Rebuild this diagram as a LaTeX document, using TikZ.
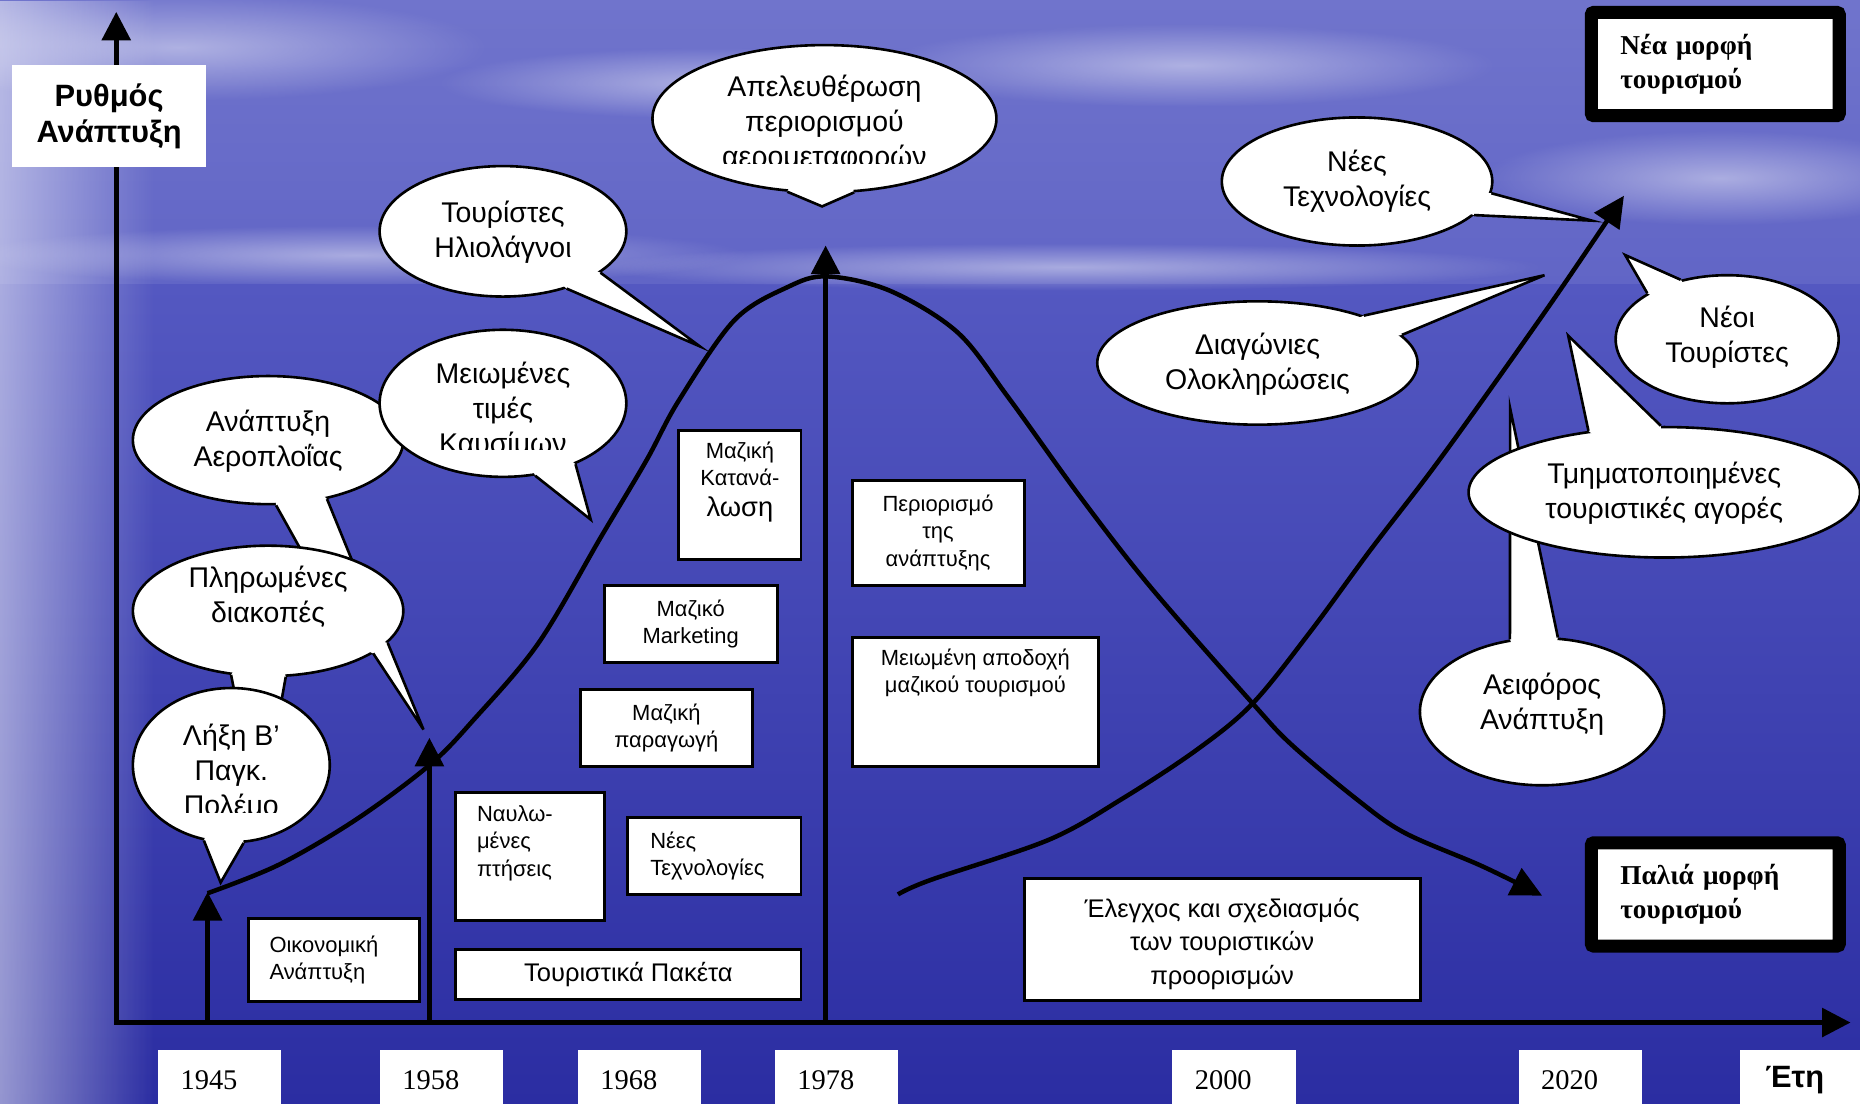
\documentclass[tikz,border=0pt]{standalone}
\usepackage{fontspec}
\setmainfont{Liberation Serif}
\setsansfont{Liberation Sans}
\usetikzlibrary{positioning, arrows.meta, shapes.geometric, fadings}

\definecolor{skytop}{HTML}{7074CC}
\definecolor{skylow}{HTML}{6165C6}
\definecolor{seatop}{HTML}{5458C1}
\definecolor{seabot}{HTML}{2B2DA2}

\tikzfading[name=softband, top color=transparent!100, middle color=transparent!60, bottom color=transparent!100]
\tikzfading[name=cloudfade, inner color=transparent!55, outer color=transparent!100]

\begin{document}
\begin{tikzpicture}[
    x=1pt, y=-1pt,
    axis/.style={line width=3.8pt, -{Triangle[length=24pt,width=24pt]}},
    trend/.style={line width=3.8pt, line join=round, -{Triangle[length=26pt,width=25pt]}},
    bubble/.style={ellipse, draw, fill=white, line width=2.2pt, inner sep=0pt},
    tailedge/.style={line width=2.2pt},
    saytext/.style={font=\sffamily\fontsize{24}{29.5}\selectfont, align=center, inner sep=0pt},
    factbox/.style={draw, fill=white, line width=2.5pt, anchor=north west, inner sep=0pt},
    facttext/.style={font=\sffamily\fontsize{18.5}{23}\selectfont, inner sep=0pt},
    bigtext/.style={font=\sffamily\fontsize{21.5}{28.5}\selectfont, align=center, inner sep=0pt},
    yearbox/.style={fill=white, anchor=north west, minimum height=50pt, text width=66pt,
        inner xsep=19pt, inner ysep=0pt, align=left, font=\fontsize{24}{24}\selectfont},
    formbox/.style={draw=black, line width=11pt, rounded corners=2pt, fill=white,
        minimum width=209pt, minimum height=87pt, text width=160pt, align=left,
        font=\bfseries\fontsize{23}{29}\selectfont}
]

    \def\xa{175}  % 1945
    \def\xb{362}  % 1958
    \def\xc{696}  % 1978
    \def\ax{862}  % axis height

    % background
    \useasboundingbox (0,0) rectangle (1568,930);
    \clip (0,0) rectangle (1568,930);
    \shade[top color=skytop, bottom color=skylow] (0,0) rectangle (1568,240);
    \shade[top color=seatop, bottom color=seabot] (0,240) rectangle (1568,930);
    \fill[white, path fading=softband] (0,180) rectangle (1568,270);
    \fill[white, path fading=east, fill opacity=0.5] (0,0) rectangle (130,930);
    \foreach \cx/\cy/\rx/\ry in {150/40/260/45, 600/70/230/30, 1000/55/260/35,
        1450/150/200/40, 300/215/330/25, 900/225/400/20}
        \fill[white, path fading=cloudfade]
            (\cx,\cy) ellipse [x radius=\rx pt, y radius=\ry pt];

    % axes
    \coordinate (origin) at (98,\ax);
    \coordinate (ytop) at (98,10);
    \coordinate (xend) at (1560,\ax);
    \draw[axis] ([yshift=-2pt]origin) -- (ytop);
    \draw[axis] (origin) -- (xend);

    % year arrows
    \coordinate (b45) at (\xa,\ax);
    \coordinate (b58) at (\xb,\ax);
    \coordinate (b78) at (\xc,\ax);
    \coordinate (t45) at (\xa,752);
    \coordinate (t58) at (\xb,622);
    \coordinate (t78) at (\xc,207);
    \draw[axis] (b45) -- (t45);
    \draw[axis] (b58) -- (t58);
    \draw[axis] (b78) -- (t78);

    % old form of tourism
    \draw[trend] plot[smooth, tension=0.55] coordinates {(175,753) (235,729) (300,691)
        (362,645) (400,606) (454,542) (507,452) (545,388) (572,338) (619,270)
        (664,242) (697,233) (750,245) (807,280) (850,335) (910,418) (970,495)
        (1056,593) (1089,628) (1144,674) (1184,702) (1249,730) (1300,755)};
    % new form of tourism
    \draw[trend] plot[smooth, tension=0.55] coordinates {(757,754) (784,742) (884,708)
        (945,674) (1009,632) (1056,593) (1105,532) (1155,464) (1205,399)
        (1250,337) (1310,252) (1369,165)};

    % bubbles, left side
    \node[bubble, minimum width=228pt, minimum height=108pt] (aero) at (226,371) {};
    \fill[white] (aero.center) -- (aero.-83) -- (274,500) -- (308,500) -- (aero.-45) -- cycle;
    \draw[tailedge] (aero.-83) -- (274,500) (aero.-45) -- (308,500);
    \node[saytext] (aerotxt) at (226,372) {Ανάπτυξη\\Αεροπλοΐας};

    \node[bubble, minimum width=208pt, minimum height=124pt] (fuel) at (424,340) {};
    \coordinate (fueltip) at (498,438);
    \fill[white] (fuel.center) -- (fuel.-66) -- (fueltip) -- (fuel.-40) -- cycle;
    \draw[tailedge] (fuel.-66) -- (fueltip) -- (fuel.-40);
    \begin{scope}
        \clip (300,280) rectangle (540,379);
        \node[saytext] (fueltxt) at (424,346) {Μειωμένες\\τιμές\\Καυσίμων};
    \end{scope}

    \node[bubble, minimum width=228pt, minimum height=110pt] (pay) at (226,515) {};
    \coordinate (paytip) at (357,615);
    \fill[white] (pay.center) -- (pay.-22) -- (paytip) -- (pay.-15) -- cycle;
    \draw[tailedge] (pay.-22) -- (paytip) -- (pay.-15);
    \fill[white] (pay.center) -- (pay.-120) -- (205,620) -- (232,620) -- (pay.-75) -- cycle;
    \draw[tailedge] (pay.-120) -- (205,620) (pay.-75) -- (232,620);
    \node[saytext] (paytxt) at (226,503) {Πληρωμένες\\διακοπές};

    \node[bubble, minimum width=166pt, minimum height=130pt] (war) at (195,645) {};
    \coordinate (wartip) at (186,744);
    \fill[white] (war.center) -- (war.-110) -- (wartip) -- (war.-81) -- cycle;
    \draw[tailedge] (war.-110) -- (wartip) -- (war.-81);
    \begin{scope}
        \clip (100,580) rectangle (290,685);
        \node[saytext] (wartxt) at (195,651) {Λήξη Β’\\Παγκ.\\Πολέμο};
    \end{scope}

    \node[bubble, minimum width=208pt, minimum height=110pt] (sun) at (424,195) {};
    \coordinate (suntip) at (590,292);
    \fill[white] (sun.center) -- (sun.-23) -- (suntip) -- (sun.-42) -- cycle;
    \draw[tailedge] (sun.-23) -- (suntip) -- (sun.-42);
    \node[saytext] (suntxt) at (424,196) {Τουρίστες\\Ηλιολάγνοι};

    \node[bubble, minimum width=290pt, minimum height=124pt] (liber) at (695,100) {};
    \coordinate (libertip) at (693,174);
    \fill[white] (liber.center) -- (liber.-117) -- (libertip) -- (liber.-68) -- cycle;
    \draw[tailedge] (liber.-117) -- (libertip) -- (liber.-68);
    \begin{scope}
        \clip (560,40) rectangle (830,138);
        \node[saytext] (libertxt) at (695,104) {Απελευθέρωση\\περιορισμού\\αερομεταφορών};
    \end{scope}

    % bubbles, right side
    \node[bubble, minimum width=228pt, minimum height=108pt] (tech) at (1144,153) {};
    \coordinate (techtip) at (1342,186);
    \fill[white] (tech.center) -- (tech.-5) -- (techtip) -- (tech.-16) -- cycle;
    \draw[tailedge] (tech.-5) -- (techtip) -- (tech.-16);
    \node[saytext] (techtxt) at (1144,153) {Νέες\\Τεχνολογίες};

    \node[bubble, minimum width=270pt, minimum height=104pt] (diag) at (1060,306) {};
    \coordinate (diagtip) at (1302,232);
    \fill[white] (diag.center) -- (diag.24) -- (diagtip) -- (diag.11.5) -- cycle;
    \draw[tailedge] (diag.24) -- (diagtip) -- (diag.11.5);
    \node[saytext] (diagtxt) at (1060,307) {Διαγώνιες\\Ολοκληρώσεις};

    \node[bubble, minimum width=188pt, minimum height=108pt] (young) at (1456,286) {};
    \coordinate (youngtip) at (1370,215);
    \fill[white] (young.center) -- (young.128) -- (youngtip) -- (young.150) -- cycle;
    \draw[tailedge] (young.128) -- (youngtip) -- (young.150);
    \node[saytext] (youngtxt) at (1456,284) {Νέοι\\Τουρίστες};

    \node[bubble, minimum width=206pt, minimum height=124pt] (green) at (1300,600) {};
    \coordinate (greentip) at (1273,344);
    \fill[white] (green.center) -- (green.114) -- (greentip) -- (green.78) -- cycle;
    \draw[tailedge] (green.114) -- (greentip) -- (green.78);
    \node[saytext] (greentxt) at (1300,594) {Αειφόρος\\Ανάπτυξη};

    \node[bubble, minimum width=330pt, minimum height=110pt] (segm) at (1403,415) {};
    \coordinate (segmtip) at (1322,283);
    \fill[white] (segm.center) -- (segm.141) -- (segmtip) -- (segm.93) -- cycle;
    \draw[tailedge] (segm.141) -- (segmtip) -- (segm.93);
    \node[saytext] (segmtxt) at (1403,416) {Τμηματοποιημένες\\τουριστικές αγορές};

    % boxes
    \node[factbox, minimum width=103pt, minimum height=108pt] (mass) at (571,362) {};
    \node[facttext, align=center, anchor=north] (masstxt) at ([yshift=-10pt]mass.north)
        {Μαζική\\Κατανά-\\[3.5pt]{\fontsize{23}{27}\selectfont λωση}};
    \node[factbox, minimum width=146pt, minimum height=65pt, facttext, align=center] (mkt) at (508,492) {Μαζικό\\Marketing};
    \node[factbox, minimum width=145pt, minimum height=65pt, facttext, align=center] (prod) at (488,580) {Μαζική\\παραγωγή};
    \node[factbox, minimum width=125pt, minimum height=108pt] (charter) at (383,667) {};
    \node[facttext, align=left, anchor=north west] (chartertxt) at ([xshift=19pt, yshift=-12pt]charter.north west)
        {Ναυλω-\\μένες\\πτήσεις};
    \node[factbox, minimum width=146pt, minimum height=65pt] (newtech) at (528,688) {};
    \node[facttext, align=left, anchor=west] (newtechtxt) at ([xshift=20pt]newtech.west) {Νέες\\Τεχνολογίες};
    \node[factbox, minimum width=291pt, minimum height=42pt, bigtext] (pack) at (383,799) {Τουριστικά Πακέτα};
    \node[factbox, minimum width=144pt, minimum height=70pt] (econ) at (208,773) {};
    \node[facttext, align=left, anchor=west] (econtxt) at ([xshift=19pt]econ.west) {Οικονομική\\Ανάπτυξη};
    \node[factbox, minimum width=145pt, minimum height=88pt, facttext, align=center] (limit) at (717,404) {Περιορισμό\\της\\ανάπτυξης};
    \node[factbox, minimum width=208pt, minimum height=109pt] (accept) at (717,536) {};
    \node[facttext, align=center, anchor=north] (accepttxt) at ([yshift=-11pt]accept.north)
        {Μειωμένη αποδοχή\\μαζικού τουρισμού};
    \node[factbox, minimum width=334pt, minimum height=103pt] (plan) at (862,739) {};
    \node[bigtext] (plantxt) at ([yshift=-4pt]plan.center)
        {Έλεγχος και σχεδιασμός\\των τουριστικών\\προορισμών};

    % forms of tourism
    \node[formbox] (newform) at (1446,54) {Νέα μορφή\\τουρισμού};
    \node[formbox] (oldform) at (1446,754) {Παλιά μορφή\\τουρισμού};

    % axis labels
    \node[fill=white, minimum width=164pt, minimum height=86pt, align=center,
        font=\sffamily\bfseries\fontsize{26}{31}\selectfont] (rate) at (92,98) {Ρυθμός\\Ανάπτυξη};
    \node[yearbox] (y45) at (133,885) {1945};
    \node[yearbox] (y58) at (320,885) {1958};
    \node[yearbox] (y68) at (487,885) {1968};
    \node[yearbox] (y78) at (653,885) {1978};
    \node[yearbox] (y00) at (988,885) {2000};
    \node[yearbox] (y20) at (1280,885) {2020};
    \node[yearbox, inner xsep=21pt, text width=60pt,
        font=\sffamily\bfseries\fontsize{26}{26}\selectfont] (years) at (1467,885) {Έτη};
\end{tikzpicture}
\end{document}
